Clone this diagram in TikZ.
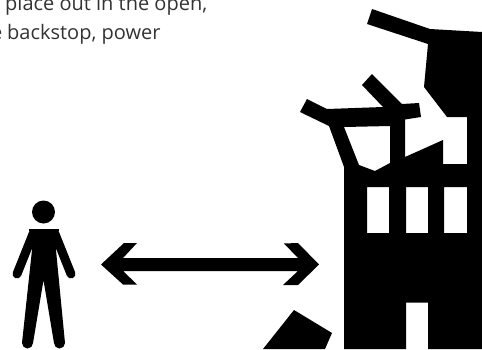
\documentclass[tikz,border=0pt]{standalone}
\usepackage{fontspec}
\setmainfont{Open Sans}
\definecolor{inktext}{gray}{0.2}
\tikzset{
  solid shape/.style={fill=black,draw=none},
  limb/.style={draw=black,line cap=round,line join=round},
  caption/.style={anchor=base west,inner sep=0pt,text=inktext,font=\fontsize{20}{24}\selectfont}
}
\begin{document}
\begin{tikzpicture}[x=1pt,y=-1pt]
\useasboundingbox (0,0) rectangle (482,349);
\clip (0,0) rectangle (482,349);
% text
\node[caption] (line1) at (5,10) {place out in the open,};
\node[caption] (line2) at (7,39.5) {backstop, power};
\node[caption,anchor=base east] (cut) at (2.5,39.5) {e};
% person
\fill (43.5,212) circle (11.5);
\fill[solid shape] (29,229) -- (59,229) -- (56,250) -- (65,343) -- (54,343) -- (43.5,280) -- (33,343) -- (22,343) -- (32,250) -- cycle;
\fill (27.5,343) circle (5.5) (59.5,343) circle (5.5);
\draw[limb,line width=9] (33,234) -- (17,274);
\draw[limb,line width=9] (55,234) -- (71,274);
% arrow
\fill[solid shape] (101,264.5) -- (124,243) -- (137,243) -- (123,258) -- (298,258) -- (284,243.5) -- (298,243) -- (319,264.5) -- (298,285) -- (283,285) -- (298,271) -- (123,271) -- (137,284.5) -- (123,284.5) -- cycle;
% debris
\fill[solid shape] (263,349) -- (294,310) -- (332,333) -- (325,349) -- cycle;
% building
\fill[solid shape,even odd rule] (372,9) -- (430,29) -- (482,32) -- (482,349) -- (428,349) -- (428,302.5) -- (406,302.5) -- (406,349) -- (344,349) -- (344,167) -- (329,126) -- (300,112) -- (307,99) -- (327,109) -- (383,107) -- (362,85) -- (372,74) -- (402,104) -- (419,103) -- (421,117) -- (405,119.5) -- (405,157) -- (443,140) -- (443,164) -- (467,164) -- (467,117) -- (447,117) -- (424,87) -- (428,44) -- (367,24) -- cycle
 (344,127) -- (390,126) -- (390,163) -- (375,171) -- (359,165) -- cycle
 (367,187) rectangle (389,233)
 (406,187) rectangle (428,233)
 (444,187) rectangle (467,233);
\end{tikzpicture}
\end{document}
